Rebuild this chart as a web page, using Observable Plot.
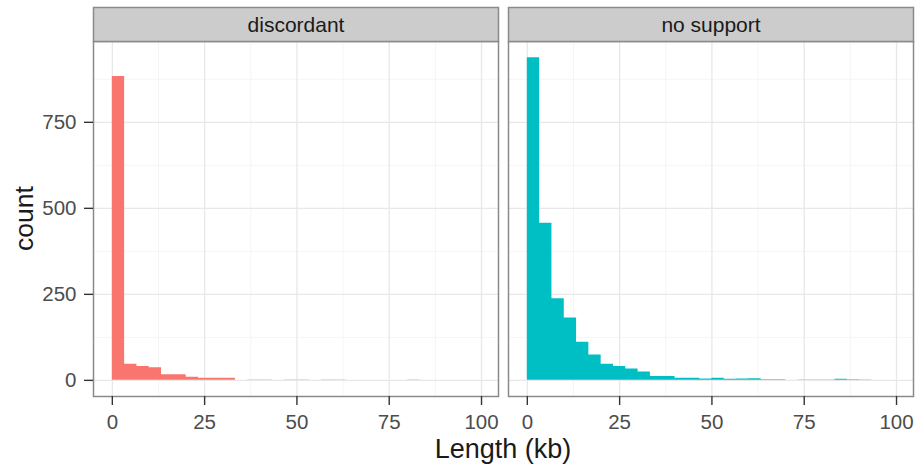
<!DOCTYPE html>
<html><head><meta charset="utf-8">
<script src="https://cdn.jsdelivr.net/npm/d3@7"></script>
<script src="https://cdn.jsdelivr.net/npm/@observablehq/plot@0.6"></script>
<style>body{margin:0;background:#fff;} #chart{width:920px;height:469px;}</style>
</head><body><div id="chart"></div>
<script>
// ---- data ----
const panels = ["discordant", "no support"];
const binWidth = 100 / 30;          // kb per histogram bin
const discordant = [883, 47, 40, 37, 16, 16, 9, 6, 6, 6, 0, 1, 1, 0, 1, 1, 0, 1, 1, 0, 0, 0, 0, 0, 1, 0, 0, 0, 0, 0];
const noSupport  = [938, 457, 237, 181, 111, 74, 47, 40, 33, 24, 11, 11, 6, 6, 4, 6, 3, 4, 5, 2, 2, 0, 1, 1, 1, 3, 2, 1, 0, 0];
const xTicks = [0, 25, 50, 75, 100];
const xMinor = [12.5, 37.5, 62.5, 87.5];
const yTicks = [0, 250, 500, 750];
const yMinor = [125, 375, 625, 875];
const colors = ["#F8766D", "#00BFC4"];
const xLabel = "Length (kb)";
const yLabel = "count";

// histogram outline points (left edge of each bin + closing edge), drawn as a step area
const pts = [];
[discordant, noSupport].forEach((arr, k) => {
  arr.forEach((c, i) => pts.push({panel: panels[k], x: i * binWidth, count: c}));
  pts.push({panel: panels[k], x: arr.length * binWidth, count: 0});
});
const yMax = d3.max(pts, d => d.count);

const W = 920, H = 469, mL = 93, mR = 7, mT = 41, mB = 73;
const panelH = H - mT - mB;
const stripH = 34;
const font = "'Liberation Sans', Arial, Helvetica, sans-serif";

const svg = Plot.plot({
  width: W, height: H,
  marginLeft: mL, marginRight: mR, marginTop: mT, marginBottom: mB,
  style: {fontFamily: font, background: "#fff", overflow: "visible"},
  fx: {domain: panels, paddingInner: 0.025, paddingOuter: 0, axis: null, label: null},
  x: {domain: [-5.1, 104.6], axis: null},
  y: {domain: [-0.05 * yMax, 1.05 * yMax], axis: null},
  color: {domain: panels, range: colors},
  marks: [
    Plot.frame({fill: "#fff"}),
    Plot.gridX(xMinor, {stroke: "#f3f3f3", strokeOpacity: 1, strokeWidth: 0.8}),
    Plot.gridY(yMinor, {stroke: "#f3f3f3", strokeOpacity: 1, strokeWidth: 0.8}),
    Plot.gridX(xTicks, {stroke: "#e8e8e8", strokeOpacity: 1, strokeWidth: 1.3}),
    Plot.gridY(yTicks, {stroke: "#e8e8e8", strokeOpacity: 1, strokeWidth: 1.3}),
    Plot.areaY(pts, {fx: "panel", x: "x", y: "count", fill: "panel", curve: "step-after"}),
    Plot.frame({stroke: "#8a8a8a", strokeWidth: 1.5}),
    Plot.frame({fill: "#cccccc", stroke: "#8a8a8a", strokeWidth: 1.5, insetTop: -stripH, insetBottom: panelH}),
    Plot.text(panels, {fx: d => d, text: d => d, frameAnchor: "top", lineAnchor: "middle", dy: -16, fontSize: 21, fill: "#1a1a1a"}),
    Plot.axisY(yTicks, {tickSize: 9, tickPadding: 8, fontSize: 20.5, fill: "#4d4d4d", stroke: "#333", strokeWidth: 1.4, label: null}),
    Plot.axisX(xTicks, {tickSize: 9, tickPadding: 9, fontSize: 20.5, fill: "#4d4d4d", stroke: "#333", strokeWidth: 1.4, label: null})
  ]
});

const s = d3.select(svg);
s.append("text").attr("x", (mL + W - mR) / 2).attr("y", 449).attr("dy", "0.35em")
  .attr("text-anchor", "middle").attr("font-size", 27).attr("fill", "#1a1a1a").text(xLabel);
s.append("text").attr("transform", `translate(24,${mT + panelH / 2}) rotate(-90)`).attr("dy", "0.35em")
  .attr("text-anchor", "middle").attr("font-size", 26.5).attr("fill", "#1a1a1a").text(yLabel);

document.getElementById("chart").append(svg);
</script></body></html>
